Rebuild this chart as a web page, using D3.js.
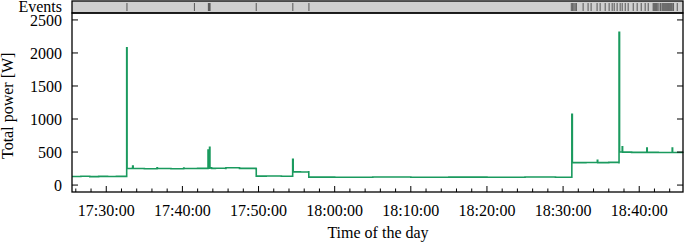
<!DOCTYPE html>
<html>
<head>
<meta charset="utf-8">
<script src="https://cdn.jsdelivr.net/npm/d3@7"></script>
<style>
  body { margin: 0; background: #fff; }
  text { font-family: "Liberation Serif", "DejaVu Serif", serif; }
</style>
</head>
<body>
<svg id="chart" width="685" height="243"></svg>
<script>
var width = 685;
var height = 243;

// power trace (time of day, watts) - each value holds until the next time
var times = [
  "17:25:30","17:26:40","17:27:50","17:29:00","17:30:10","17:31:20","17:32:40",
  "17:32:41","17:32:44","17:33:25","17:33:28","17:33:32","17:35:00","17:36:40","17:36:43","17:38:30",
  "17:40:10","17:40:13","17:42:00","17:43:20","17:43:22","17:43:26","17:43:34","17:43:37","17:43:50",
  "17:44:20","17:45:40","17:45:43","17:47:30","17:49:40","17:49:42",
  "17:51:00","17:53:00","17:54:28","17:54:29","17:54:33","17:55:30","17:56:35","17:56:36",
  "18:00:00","18:05:00","18:10:00","18:15:00","18:20:00","18:25:00","18:29:00","18:31:08",
  "18:31:09","18:31:13","18:33:00","18:34:30","18:34:33","18:36:00","18:37:20",
  "18:37:21","18:37:25","18:37:46","18:37:49","18:39:00","18:41:00","18:41:03","18:42:30",
  "18:44:20","18:44:23","18:45:45"
];
var watts = [
  130,133,128,132,130,131,130,
  2080,250,252,288,250,248,262,250,247,
  258,250,252,250,530,255,571,260,252,
  254,250,262,252,248,135,
  138,133,135,389,200,198,200,120,
  118,121,119,120,118,121,119,120,
  1071,340,342,375,340,343,340,
  2313,500,580,498,495,560,495,492,
  560,492,490
];

// event marks
var events = [
  "17:32:43","17:41:35","17:43:25","17:43:32","17:43:38","17:49:42","17:54:30","17:56:37",
  "18:31:05","18:31:15","18:31:25","18:31:35","18:31:45","18:32:38","18:33:17","18:33:41",
  "18:34:28","18:34:52","18:35:32","18:36:03","18:36:27","18:36:43","18:37:06","18:37:30",
  "18:37:46","18:38:10","18:38:33","18:39:13","18:39:44","18:40:16","18:40:47","18:41:11",
  "18:41:50","18:41:58","18:42:06","18:42:14","18:42:22","18:42:35","18:42:48","18:43:00",
  "18:43:08","18:43:16","18:43:24","18:43:32","18:43:40","18:43:48","18:43:56","18:44:04",
  "18:44:12","18:44:20","18:44:30","18:45:00"
];

var yTicks = [0, 500, 1000, 1500, 2000, 2500];

var parse = d3.timeParse("%H:%M:%S");
var data = times.map((t, i) => ({t: parse(t), v: watts[i]}));

var left = 72, right = 683, evTop = 1, evBottom = 13, plotBottom = 192;

var svg = d3.select("#chart");

var x = d3.scaleTime()
    .domain([parse("17:25:30"), parse("18:45:45")])
    .range([left, right]);
var y = d3.scaleLinear()
    .domain([-105, 2605])
    .range([plotBottom, evBottom]);

// events bar
svg.append("rect")
    .attr("x", left).attr("y", evTop)
    .attr("width", right - left).attr("height", evBottom - evTop)
    .attr("fill", "#cfcfcf");
svg.append("g").selectAll("line")
    .data(events)
    .join("line")
    .attr("x1", d => x(parse(d))).attr("x2", d => x(parse(d)))
    .attr("y1", evTop + 2).attr("y2", evBottom - 2)
    .attr("stroke", "#333")
    .attr("stroke-opacity", 0.7)
    .attr("stroke-width", 1.1);
svg.append("rect")
    .attr("x", left).attr("y", evTop)
    .attr("width", right - left).attr("height", evBottom - evTop)
    .attr("fill", "none").attr("stroke", "#000").attr("stroke-width", 1.3);
svg.append("text")
    .attr("x", 62).attr("y", 11.5)
    .attr("text-anchor", "end")
    .attr("font-size", 16)
    .text("Events");

// power line
svg.append("path")
    .datum(data)
    .attr("fill", "none")
    .attr("stroke", "#1a9a5e")
    .attr("stroke-width", 1.6)
    .attr("d", d3.line().curve(d3.curveStepAfter).x(d => x(d.t)).y(d => y(d.v)));

// frame
svg.append("rect")
    .attr("x", left).attr("y", evBottom)
    .attr("width", right - left).attr("height", plotBottom - evBottom)
    .attr("fill", "none").attr("stroke", "#000").attr("stroke-width", 1.3);

// y ticks (inward, mirrored)
var yAxis = svg.append("g");
yAxis.selectAll(".tl").data(yTicks).join("line")
    .attr("x1", left).attr("x2", left + 6)
    .attr("y1", d => y(d)).attr("y2", d => y(d))
    .attr("stroke", "#000");
yAxis.selectAll(".tr").data(yTicks).join("line")
    .attr("x1", right).attr("x2", right - 6)
    .attr("y1", d => y(d)).attr("y2", d => y(d))
    .attr("stroke", "#000");
yAxis.selectAll("text").data(yTicks).join("text")
    .attr("x", 62).attr("y", d => y(d))
    .attr("dy", "0.35em")
    .attr("text-anchor", "end")
    .attr("font-size", 16)
    .text(d => d);

// x ticks: minor every 2 min, labelled every 10 min
var minor = x.ticks(d3.timeMinute.every(2));
var major = x.ticks(d3.timeMinute.every(10));
svg.append("g").selectAll("line").data(minor).join("line")
    .attr("x1", d => x(d)).attr("x2", d => x(d))
    .attr("y1", plotBottom)
    .attr("y2", d => plotBottom - (d.getMinutes() % 10 === 0 ? 6 : 3.5))
    .attr("stroke", "#000");
svg.append("g").selectAll("text").data(major).join("text")
    .attr("x", d => x(d)).attr("y", 216)
    .attr("text-anchor", "middle")
    .attr("font-size", 16)
    .text(d3.timeFormat("%H:%M:%S"));

svg.append("text")
    .attr("x", 378).attr("y", 238)
    .attr("text-anchor", "middle")
    .attr("font-size", 16)
    .text("Time of the day");
svg.append("text")
    .attr("transform", "translate(13," + y(1200) + ") rotate(-90)")
    .attr("text-anchor", "middle")
    .attr("font-size", 16)
    .text("Total power [W]");
</script>
</body>
</html>
